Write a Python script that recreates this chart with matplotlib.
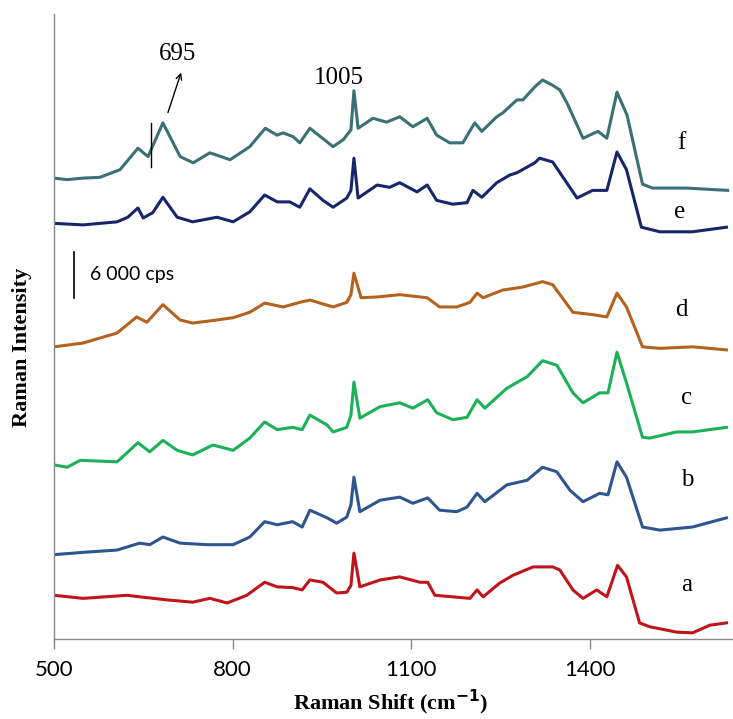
import matplotlib
matplotlib.use("Agg")
import matplotlib.pyplot as plt

SERIF = "Liberation Serif"
SANS = "Lato"

# spectra, intensity in kcps (offset already applied as in the figure)
f_shift = [500, 522, 549, 577, 611, 641, 658, 683, 712, 734, 762, 796, 829, 855, 875, 885,
           902, 913, 930, 969, 986, 999, 1004, 1011, 1036, 1059, 1081, 1103, 1127, 1143,
           1165, 1187, 1207, 1219, 1244, 1254, 1278, 1288, 1308, 1321, 1338, 1350, 1362,
           1389, 1414, 1429, 1446, 1463, 1489, 1506, 1563, 1632]
f_int = [60.1, 59.9, 60.1, 60.2, 61.2, 64.0, 62.9, 67.3, 62.9, 62.1, 63.4, 62.5, 64.2, 66.6,
         65.7, 66.0, 65.5, 64.7, 66.6, 64.2, 65.1, 66.4, 71.5, 66.6, 67.9, 67.4, 68.1, 66.8,
         67.9, 65.7, 64.7, 64.7, 67.3, 66.2, 68.1, 68.6, 70.3, 70.3, 72.0, 72.9, 72.2, 71.6,
         69.9, 65.3, 66.2, 65.3, 71.3, 68.3, 59.3, 58.8, 58.8, 58.5]

e_shift = [500, 549, 606, 624, 641, 650, 666, 683, 707, 733, 774, 801, 829, 854, 875, 896,
           913, 930, 952, 969, 992, 999, 1004, 1011, 1043, 1064, 1081, 1110, 1127, 1143,
           1170, 1194, 1204, 1219, 1244, 1266, 1278, 1308, 1316, 1338, 1379, 1405, 1429,
           1446, 1462, 1487, 1518, 1573, 1630]
e_int = [54.2, 54.0, 54.4, 55.0, 56.2, 54.9, 55.6, 57.6, 55.0, 54.4, 55.0, 54.4, 55.7, 57.9,
         57.0, 57.0, 56.3, 58.7, 57.2, 56.3, 57.5, 58.5, 62.7, 57.5, 59.2, 58.9, 59.5, 58.3,
         59.2, 57.2, 56.7, 56.9, 58.5, 57.6, 59.5, 60.5, 60.8, 62.1, 62.7, 62.2, 57.5, 58.5,
         58.5, 63.5, 61.2, 53.7, 53.1, 53.1, 53.7]

d_shift = [500, 549, 606, 639, 656, 683, 712, 733, 774, 801, 829, 854, 885, 913, 930, 969,
           992, 999, 1004, 1016, 1043, 1081, 1127, 1148, 1177, 1199, 1211, 1221, 1254, 1288,
           1321, 1338, 1372, 1405, 1429, 1446, 1462, 1489, 1518, 1573, 1630]
d_int = [38.1, 38.6, 39.9, 42.0, 41.3, 43.6, 41.6, 41.2, 41.6, 41.9, 42.6, 43.8, 43.3, 43.9,
         44.2, 43.3, 43.9, 44.9, 47.7, 44.5, 44.6, 44.9, 44.5, 43.3, 43.3, 43.9, 45.1, 44.5,
         45.5, 45.9, 46.6, 46.2, 42.6, 42.3, 42.0, 45.1, 43.3, 38.1, 37.9, 38.1, 37.7]

c_shift = [500, 522, 544, 606, 623, 641, 661, 683, 707, 733, 767, 801, 829, 854, 875, 901,
           917, 930, 959, 969, 992, 999, 1004, 1014, 1048, 1081, 1103, 1128, 1143, 1170,
           1194, 1211, 1224, 1261, 1295, 1321, 1345, 1372, 1389, 1417, 1431, 1446, 1462,
           1489, 1501, 1546, 1573, 1630]
c_int = [22.7, 22.4, 23.3, 23.1, 24.3, 25.6, 24.4, 25.9, 24.6, 24.0, 25.3, 24.6, 26.2, 28.3,
         27.3, 27.6, 27.3, 29.2, 27.9, 27.0, 27.6, 29.2, 33.5, 28.8, 30.3, 30.8, 30.1, 31.2,
         29.5, 28.6, 28.9, 31.2, 30.1, 32.7, 34.2, 36.3, 35.7, 32.1, 30.8, 32.1, 32.1, 37.4,
         33.4, 26.3, 26.2, 27.0, 27.0, 27.6]

b_shift = [500, 549, 606, 644, 661, 683, 712, 757, 801, 829, 854, 875, 901, 917, 930, 959,
           975, 992, 999, 1004, 1014, 1048, 1081, 1103, 1128, 1148, 1177, 1194, 1211, 1224,
           1261, 1295, 1321, 1345, 1367, 1389, 1417, 1431, 1446, 1462, 1489, 1518, 1573, 1630]
b_int = [11.0, 11.3, 11.6, 12.5, 12.3, 13.3, 12.5, 12.3, 12.3, 13.3, 15.3, 14.9, 15.3, 14.6,
         16.8, 15.8, 15.1, 15.9, 17.5, 21.1, 16.6, 18.1, 18.5, 17.7, 18.4, 16.8, 16.6, 17.2,
         19.0, 17.9, 20.1, 20.7, 22.4, 21.8, 19.4, 17.9, 19.0, 18.8, 23.1, 21.1, 14.6, 14.2,
         14.6, 15.8]

a_shift = [500, 549, 623, 644, 690, 733, 762, 791, 824, 854, 875, 901, 917, 930, 952, 975,
           992, 999, 1004, 1014, 1048, 1081, 1115, 1128, 1140, 1170, 1199, 1211, 1221, 1249,
           1271, 1305, 1338, 1350, 1372, 1389, 1412, 1429, 1447, 1462, 1484, 1501, 1546, 1573,
           1602, 1630]
a_int = [5.7, 5.3, 5.7, 5.5, 5.1, 4.8, 5.3, 4.7, 5.7, 7.4, 6.8, 6.7, 6.4, 7.7, 7.4, 6.0, 6.1,
         7.0, 11.2, 6.8, 7.7, 8.1, 7.4, 7.4, 5.7, 5.5, 5.3, 6.4, 5.5, 7.3, 8.3, 9.4, 9.4, 9.0,
         6.4, 5.3, 6.4, 5.5, 9.6, 8.1, 2.1, 1.6, 0.9, 0.8, 1.8, 2.1]

labels = ["a", "b", "c", "d", "e", "f"]
colors = ["#c0141c", "#2f5590", "#1cb158", "#b4621f", "#17256a", "#3b7075"]
label_pos = [(1563, 7.0), (1565, 20.7), (1563, 31.4), (1555, 42.9), (1552, 55.7), (1555, 64.7)]

spectra = [(a_shift, a_int), (b_shift, b_int), (c_shift, c_int),
           (d_shift, d_int), (e_shift, e_int), (f_shift, f_int)]

fig = plt.figure(figsize=(7.33, 7.19), dpi=100)
ax = fig.add_axes([54 / 733, 1 - 639 / 719, 679 / 733, 625 / 719])

for (x, y), col, lab, (lx, ly) in zip(spectra, colors, labels, label_pos):
    ax.plot(x, y, color=col, lw=2.2, solid_joinstyle="round")
    ax.text(lx, ly, lab, family=SERIF, fontsize=18, ha="center", va="center")

# peak annotations
ax.annotate("", xy=(715, 74.2), xytext=(690, 68.3),
            arrowprops=dict(arrowstyle="->", color="black", lw=1.0))
ax.text(708, 76.3, "695", family=SERIF, fontsize=18, ha="center", va="center")
ax.text(979, 73.2, "1005", family=SERIF, fontsize=18, ha="center", va="center")
ax.plot([663, 663], [61.5, 67.3], color="black", lw=1.0)

# 6000 cps scale bar
ax.plot([534, 534], [44.5, 50.5], color="black", lw=1.2)
ax.text(560, 47.5, "6 000 cps", family=SANS, fontsize=14, ha="left", va="center")

ax.set_xlim(500, 1641)
ax.set_ylim(0, 81.5)
ax.set_xticks([500, 800, 1100, 1400])
ax.set_yticks([])
ax.tick_params(axis="x", direction="out", length=7, width=1, color="#888888",
               labelsize=16, pad=8)
for t in ax.get_xticklabels():
    t.set_family(SANS)
for s in ["top", "right"]:
    ax.spines[s].set_visible(False)
for s in ["left", "bottom"]:
    ax.spines[s].set_color("#888888")
    ax.spines[s].set_linewidth(1.0)

fig.text(391 / 733, 1 - 702 / 719, "Raman Shift (cm$^{\\mathbf{-1}}$)", family=SERIF,
         fontweight="bold", fontsize=16, ha="center", va="center")
fig.text(22 / 733, 1 - 347 / 719, "Raman Intensity", family=SERIF, fontweight="bold",
         fontsize=16, rotation=90, ha="center", va="center")

fig.savefig("out.png", dpi=100)
